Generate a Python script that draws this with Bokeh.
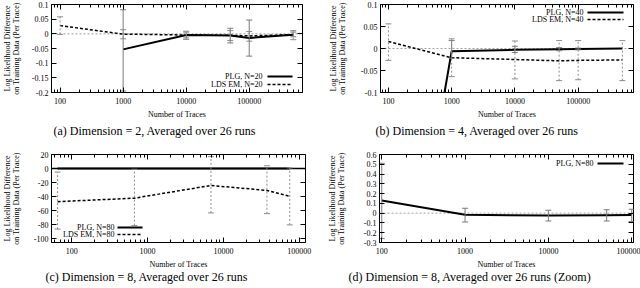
from bokeh.plotting import figure
from bokeh.models import (ColumnDataSource, Whisker, TeeHead, Span, FixedTicker,
                          LinearAxis, LogAxis, Range1d, Label, Arrow, Title)
from bokeh.layouts import column, row
from bokeh.embed import file_html
from bokeh.resources import INLINE

FONT = "Liberation Serif"

# ---------------- data ----------------
x_ticks = [100, 1000, 10000, 100000]
x_tick_labels = ["100", "1000", "10000", "100000"]

# (a) Dimension = 2
a_plg_x = [1000, 10000, 50000, 100000, 500000]
a_plg = [-0.053, -0.004, -0.006, -0.014, -0.003]
a_plg_hi = [0.082, 0.006, 0.019, 0.047, 0.006]
a_plg_lo = [-0.195, -0.014, -0.031, -0.076, -0.010]
a_lds_x = [100, 1000, 10000, 50000, 100000, 500000]
a_lds = [0.028, -0.001, -0.004, -0.005, -0.007, -0.003]
a_lds_hi = [0.058, 0.014, 0.009, 0.011, 0.008, 0.011]
a_lds_lo = [-0.002, -0.017, -0.019, -0.023, -0.025, -0.020]
a_yticks = [-0.2, -0.15, -0.1, -0.05, 0.0, 0.05, 0.1]
a_ylabels = ["-0.2", "-0.15", "-0.1", "-0.05", "0", "0.05", "0.1"]

# (b) Dimension = 4
b_plg_x = [100, 1000, 10000, 50000, 100000, 500000]
b_plg = [-0.84, -0.006, -0.003, -0.0015, -0.001, 0.0]
b_plg_err_x = [1000, 10000, 50000, 100000]
b_plg_hi = [0.018, 0.005, 0.002, 0.001]
b_plg_lo = [-0.022, -0.009, -0.005, -0.003]
b_lds_x = [100, 1000, 10000, 50000, 100000, 500000]
b_lds = [0.016, -0.021, -0.025, -0.028, -0.027, -0.026]
b_lds_hi = [0.056, 0.022, 0.017, 0.018, 0.018, 0.018]
b_lds_lo = [-0.027, -0.064, -0.069, -0.073, -0.071, -0.073]
b_yticks = [-0.1, -0.05, 0.0, 0.05, 0.1]
b_ylabels = ["-0.1", "-0.05", "0", "0.05", "0.1"]

# (c) Dimension = 8
c_x = [65, 670, 6850, 37500, 75000]
c_plg = [0, 0, 0, 0, 0]
c_lds = [-47, -42, -24, -31, -39.5]
c_lds_hi = [-5, -1, 17, 4, 1]
c_lds_lo = [-86, -81, -63, -64, -80]
c_yticks = [-100, -80, -60, -40, -20, 0, 20]
c_ylabels = ["-100", "-80", "-60", "-40", "-20", "0", "20"]

# (d) Dimension = 8 (Zoom)
d_x = [100, 1000, 10000, 50000, 100000]
d_plg = [0.13, -0.017, -0.025, -0.022, -0.02]
d_plg_hi = [0.51, 0.05, 0.03, 0.035, 0.04]
d_plg_lo = [-0.26, -0.09, -0.08, -0.08, -0.085]
d_yticks = [-0.3, -0.2, -0.1, 0.0, 0.1, 0.2, 0.3, 0.4, 0.5, 0.6]
d_ylabels = ["-0.3", "-0.2", "-0.1", "0", "0.1", "0.2", "0.3", "0.4", "0.5", "0.6"]

YLABEL = "Log Likelihood Difference\non Training Data (Per Trace)"
XLABEL = "Number of Traces"

x_minor = [k * 10 ** e for e in range(1, 6) for k in range(2, 10)]

FH = 88  # frame height


def panel(width, height, xr, yr, mbl, mbr, mbt, mbb, yticks, ylabels, ylab_standoff,
          caption, cap_offset, cap_standoff):
    p = figure(width=width, height=height, x_axis_type="log",
               x_range=Range1d(*xr), y_range=Range1d(*yr),
               output_backend="svg", toolbar_location=None,
               min_border_left=mbl, min_border_right=mbr, min_border_top=mbt,
               min_border_bottom=mbb)
    p.xgrid.visible = False
    p.ygrid.visible = False
    p.outline_line_color = "black"
    p.outline_line_width = 1
    p.outline_line_alpha = 1
    p.background_fill_color = "white"
    p.border_fill_color = "white"

    xt = FixedTicker(ticks=x_ticks, minor_ticks=x_minor)
    yt = FixedTicker(ticks=yticks)
    xo = {float(t): s for t, s in zip(x_ticks, x_tick_labels)}
    yo = {float(t): s for t, s in zip(yticks, ylabels)}

    for ax in p.xaxis:
        ax.ticker = xt
        ax.major_label_overrides = xo
        ax.axis_label = XLABEL
        ax.major_label_standoff = 5
        ax.axis_label_standoff = 3
    for ax in p.yaxis:
        ax.ticker = yt
        ax.major_label_overrides = yo
        ax.axis_label = YLABEL
        ax.major_label_standoff = 3
        ax.axis_label_standoff = ylab_standoff
        ax.axis_label_text_line_height = 0.95
    for ax in list(p.xaxis) + list(p.yaxis):
        ax.major_tick_in = 5
        ax.major_tick_out = 0
        ax.minor_tick_in = 3
        ax.minor_tick_out = 0
        ax.major_label_text_font = FONT
        ax.major_label_text_font_size = "8px"
        ax.major_label_text_color = "black"
        ax.axis_label_text_font = FONT
        ax.axis_label_text_font_size = "8px"
        ax.axis_label_text_font_style = "normal"
        ax.axis_label_text_color = "black"
        ax.axis_line_color = "black"
        ax.major_tick_line_color = "black"
        ax.minor_tick_line_color = "black"
    for ax in p.yaxis:
        ax.minor_tick_line_color = None

    # mirrored ticks (top / right)
    top = LogAxis(ticker=xt, major_label_text_font_size="1px", major_label_text_alpha=0,
                  major_label_standoff=0,
                  major_tick_in=5, major_tick_out=0, minor_tick_in=3, minor_tick_out=0,
                  axis_line_color=None)
    right = LinearAxis(ticker=yt, major_label_text_font_size="1px", major_label_text_alpha=0,
                       major_label_standoff=0,
                       major_tick_in=5, major_tick_out=0, minor_tick_line_color=None,
                       axis_line_color=None)
    p.add_layout(top, "above")
    p.add_layout(right, "right")

    t = Title(text=caption, align="left", offset=cap_offset, text_font=FONT,
              text_font_size="12px", text_font_style="normal", text_color="black",
              standoff=cap_standoff)
    p.add_layout(t, "below")
    return p


def zero_line(p, color="#a0a0a0", dash="2 2", width=1):
    p.add_layout(Span(location=0, dimension="width", line_color=color,
                      line_dash=dash, line_width=width, level="underlay"))


def errbars(p, xs, lo, hi, color, dash):
    src = ColumnDataSource(dict(x=xs, lo=lo, hi=hi))
    w = Whisker(base="x", lower="lo", upper="hi", source=src, dimension="height",
                line_color=color, line_width=1, line_dash=dash,
                upper_head=TeeHead(size=6, line_color=color, line_width=1),
                lower_head=TeeHead(size=6, line_color=color, line_width=1))
    w.level = "glyph"
    p.add_layout(w)


def leg(p, text, tx, ty, s0, s1, dash, lw):
    p.add_layout(Label(x=tx, y=ty, x_units="screen", y_units="screen", text=text,
                       text_align="right", text_baseline="middle", text_font=FONT,
                       text_font_size="8px", text_color="black"))
    p.add_layout(Arrow(x_start=s0, y_start=ty, x_end=s1, y_end=ty,
                       start_units="screen", end_units="screen", start=None, end=None,
                       line_color="black", line_width=lw, line_dash=dash))


PLG_W = 2
LDS_W = 1.5
LDS_DASH = "3 2"
ERR_PLG = "#7a7a7a"
ERR_LDS = "#8c8c8c"

# ---- (a)  frame 51..302 x 4..92
pa = panel(320, 146, (73, 700000), (-0.2, 0.1), 51, 18, 4, 54, a_yticks, a_ylabels, 8,
           "(a) Dimension = 2, Averaged over 26 runs", 2, 1)
zero_line(pa)
errbars(pa, a_plg_x, a_plg_lo, a_plg_hi, ERR_PLG, "solid")
errbars(pa, a_lds_x, a_lds_lo, a_lds_hi, ERR_LDS, "2 2")
pa.line(a_lds_x, a_lds, line_color="black", line_width=LDS_W, line_dash=LDS_DASH)
pa.line(a_plg_x, a_plg, line_color="black", line_width=PLG_W)
W = 251
leg(pa, "PLG, N=20", W - 40, 16, W - 35, W - 10, "solid", PLG_W)
leg(pa, "LDS EM, N=20", W - 40, 8, W - 35, W - 10, LDS_DASH, LDS_W)

# ---- (b)  frame 380..633 x 4..92
pb = panel(320, 146, (75, 750000), (-0.1, 0.1), 60, 7, 4, 54, b_yticks, b_ylabels, 11,
           "(b) Dimension = 4, Averaged over 26 runs", -5, 1)
zero_line(pb)
errbars(pb, b_plg_err_x, b_plg_lo, b_plg_hi, ERR_PLG, "solid")
errbars(pb, b_lds_x, b_lds_lo, b_lds_hi, ERR_LDS, "2 2")
pb.line(b_lds_x, b_lds, line_color="black", line_width=LDS_W, line_dash=LDS_DASH)
pb.line(b_plg_x, b_plg, line_color="black", line_width=PLG_W)
W = 253
leg(pb, "PLG, N=40", W - 50, FH - 8, W - 46, W - 10, "solid", PLG_W)
leg(pb, "LDS EM, N=40", W - 50, FH - 15, W - 46, W - 10, LDS_DASH, LDS_W)

# ---- (c)  frame 47..305 x 154..242
pc = panel(320, 142, (54, 121000), (-105, 20), 47, 15, 8, 46, c_yticks, c_ylabels, 10,
           "(c) Dimension = 8, Averaged over 26 runs", -6, -7)
zero_line(pc, color="black", dash="solid", width=1.5)
errbars(pc, c_x, c_lds_lo, c_lds_hi, ERR_LDS, "2 2")
pc.line(c_x, c_lds, line_color="black", line_width=LDS_W, line_dash=LDS_DASH)
pc.line(c_x, c_plg, line_color="black", line_width=PLG_W)
leg(pc, "PLG, N=80", 63, 15, 66, 91, "solid", PLG_W)
leg(pc, "LDS EM, N=80", 63, 8, 66, 91, LDS_DASH, LDS_W)

# ---- (d)  frame 379..633 x 154..242
pd_ = panel(320, 142, (94, 105000), (-0.3, 0.6), 59, 7, 8, 46, d_yticks, d_ylabels, 15,
            "(d) Dimension = 8, Averaged over 26 runs (Zoom)", -31, -7)
zero_line(pd_)
errbars(pd_, d_x, d_plg_lo, d_plg_hi, ERR_PLG, "solid")
pd_.line(d_x, d_plg, line_color="black", line_width=PLG_W)
W = 254
leg(pd_, "PLG, N=80", W - 40, FH - 9, W - 36, W - 10, "solid", PLG_W)

layout = column(row(pa, pb), row(pc, pd_))
open("out.html", "w").write(file_html(layout, INLINE))
